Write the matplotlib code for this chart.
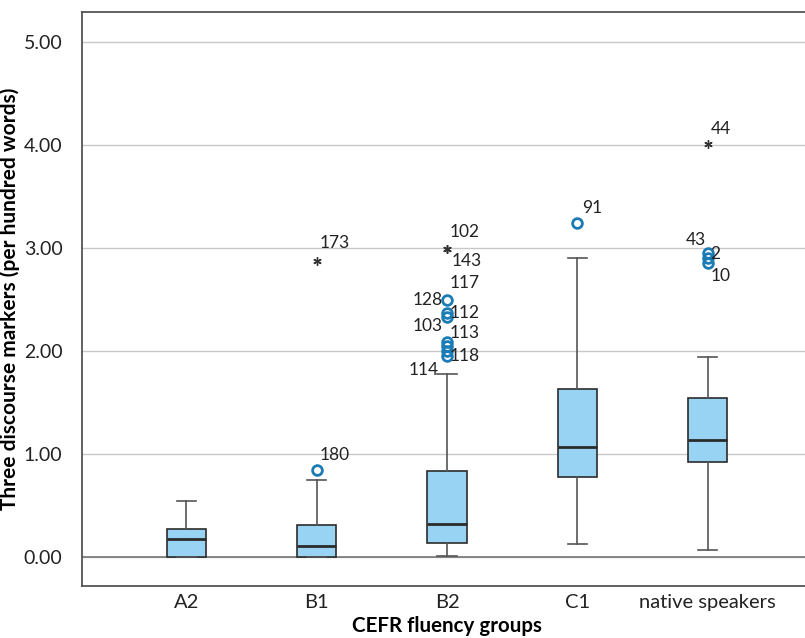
import matplotlib
matplotlib.use("Agg")
import matplotlib.pyplot as plt

plt.rcParams['font.family'] = ['Lato', 'DejaVu Sans']

groups = ["A2", "B1", "B2", "C1", "native speakers"]
whislo = [0.00, 0.00, 0.01, 0.13, 0.07]
q1 = [0.00, 0.00, 0.14, 0.78, 0.92]
med = [0.18, 0.11, 0.32, 1.07, 1.14]
q3 = [0.27, 0.31, 0.84, 1.63, 1.54]
whishi = [0.54, 0.75, 1.78, 2.90, 1.94]

# outliers (circles): group index, value, case label
out_group = [1, 2, 2, 2, 2, 2, 2, 2, 3, 4, 4, 4]
out_value = [0.85, 2.50, 2.37, 2.33, 2.09, 2.05, 2.00, 1.95, 3.24, 2.95, 2.90, 2.85]
out_label = ["180", "128", "117", "112", "103", "113", "", "118", "91", "43", "2", "10"]
extra_label_group = [2]
extra_label_value = [2.00]
extra_label_text = ["114"]

# extreme values (asterisks)
ext_group = [1, 2, 2, 4]
ext_value = [2.87, 2.99, 2.99, 4.01]
ext_label = ["173", "102", "143", "44"]

yticks = [0, 1, 2, 3, 4, 5]

fig = plt.figure(figsize=(8.05, 6.38), dpi=100)
ax = fig.add_axes([82/805, 52/638, 730/805, 574/638])

stats = []
for i, g in enumerate(groups):
    stats.append(dict(label=g, whislo=whislo[i], q1=q1[i], med=med[i], q3=q3[i],
                      whishi=whishi[i], fliers=[]))

ax.bxp(stats, positions=range(len(groups)), widths=0.3, patch_artist=True,
       showfliers=False,
       boxprops=dict(facecolor="#99d3f4", edgecolor="#2b2b2b", linewidth=1.2),
       medianprops=dict(color="#2b2b2b", linewidth=2),
       whiskerprops=dict(color="#555555", linewidth=1.2),
       capprops=dict(color="#555555", linewidth=1.2),
       capwidths=0.15, zorder=3)

ax.set_xlim(-0.8, 4.8)
ax.set_ylim(-0.28, 5.29)
ax.set_yticks(yticks)
ax.set_yticklabels([f"{t:.2f}" for t in yticks], fontsize=14, color="#222222")
ax.set_xticks(range(len(groups)))
ax.set_xticklabels(groups, fontsize=14.5, color="#222222")
ax.tick_params(axis='both', length=0, pad=6)
ax.tick_params(axis='y', pad=14)
ax.yaxis.grid(True, color="#c8c8c8", linewidth=1, zorder=0)
ax.set_axisbelow(True)
ax.axhline(0, color="#777777", linewidth=1.2, zorder=1)
for s in ['top', 'left', 'bottom']:
    ax.spines[s].set_color("#555555")
    ax.spines[s].set_linewidth(1.3)
ax.spines['right'].set_visible(False)

ax.set_ylabel("Three discourse markers (per hundred words)", fontsize=15,
              fontweight='bold', labelpad=3)
ax.set_xlabel("CEFR fluency groups", fontsize=14.8, fontweight='bold', labelpad=3)

ax.plot(out_group, out_value, linestyle='none', marker='o', markersize=7,
        markerfacecolor='none', markeredgecolor="#1a7bb5", markeredgewidth=2, zorder=4)
ax.plot(ext_group, ext_value, linestyle='none', marker=(6, 2, 0), markersize=6,
        color="#333333", markeredgewidth=1, zorder=4)

# label placement offsets (pixels) keyed by label
offsets = {"180": (3, 15, 'left'), "128": (-4, 0, 'right'), "117": (3, 30, 'left'),
           "112": (3, 4, 'left'), "103": (-4, 16, 'right'), "113": (3, 13, 'left'),
           "118": (3, 0, 'left'), "91": (5, 15, 'left'), "43": (-2, 13, 'right'),
           "2": (3, 4, 'left'), "10": (3, -13, 'left'), "114": (-8, -19, 'right'),
           "173": (3, 18, 'left'), "102": (3, 17, 'left'), "143": (5, -12, 'left'),
           "44": (3, 15, 'left')}

def put(x, y, t):
    if not t:
        return
    dx, dy, ha = offsets[t]
    ax.annotate(t, (x, y), xytext=(dx, dy), textcoords='offset pixels',
                ha=ha, va='center', fontsize=12.5, color="#222222", zorder=5)

for g, v, t in zip(out_group, out_value, out_label):
    put(g, v, t)
for g, v, t in zip(extra_label_group, extra_label_value, extra_label_text):
    put(g, v, t)
for g, v, t in zip(ext_group, ext_value, ext_label):
    put(g, v, t)

fig.savefig("out.png", dpi=100)
